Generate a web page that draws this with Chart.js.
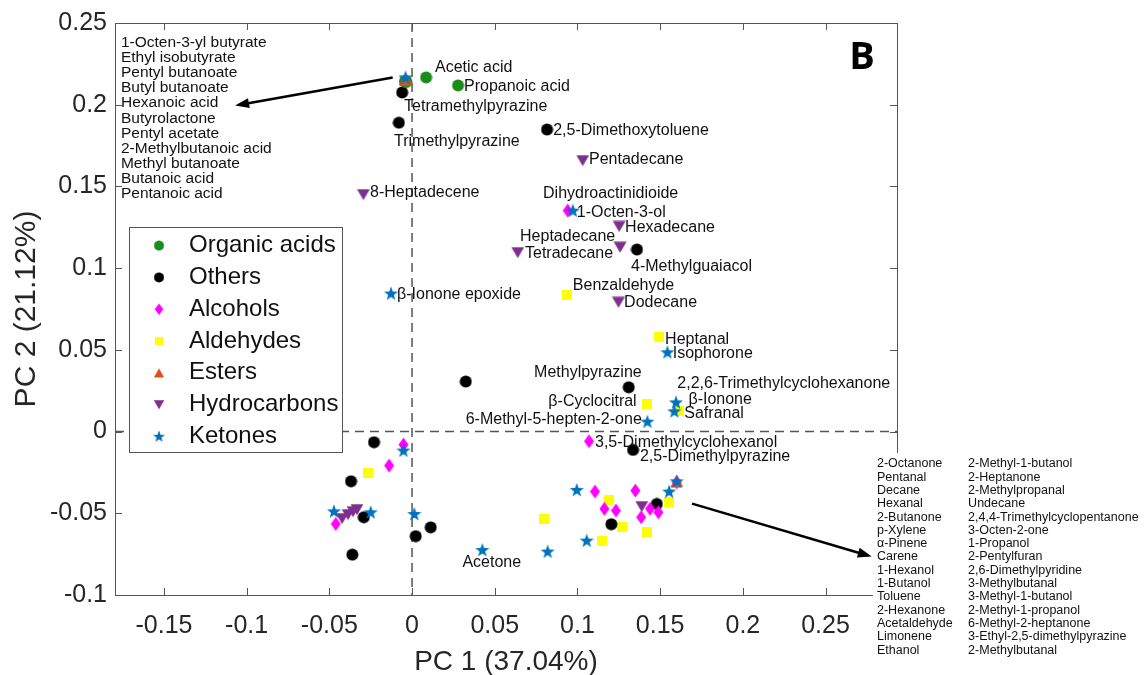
<!DOCTYPE html>
<html>
<head>
<meta charset="utf-8">
<script src="https://cdn.jsdelivr.net/npm/chart.js@4.4.1/dist/chart.umd.min.js"></script>
<style>
  html, body { margin: 0; padding: 0; background: #fff; }
  canvas { display: block; }
</style>
</head>
<body>
<canvas id="pca" width="1146" height="675"></canvas>
<script>
// PC1 / PC2 loadings, one small array per compound class
const organicAcids = [[0.0085, 0.2167], [0.0278, 0.2118], [-0.0040, 0.2142], [-0.0036, 0.2140], [-0.0042, 0.2144], [-0.0038, 0.2141]];
const others = [[-0.0060, 0.2075], [-0.0080, 0.1890], [0.0816, 0.1848], [0.1360, 0.1114], [0.1310, 0.0271], [0.0325, 0.0306],
  [0.1336, -0.0112], [-0.0230, -0.0065], [-0.0369, -0.0304], [-0.0292, -0.0524], [-0.0361, -0.0753], [0.0022, -0.0640],
  [0.0113, -0.0586], [0.1205, -0.0567], [0.1480, -0.0443]];
const alcohols = [[0.0941, 0.1352], [0.1070, -0.0059], [-0.0052, -0.0080], [-0.0139, -0.0208], [-0.0461, -0.0565],
  [0.1106, -0.0367], [0.1163, -0.0473], [0.1233, -0.0483], [0.1350, -0.0361], [0.1385, -0.0524], [0.1439, -0.0473],
  [0.1489, -0.0494], [0.1600, -0.0310]];
const aldehydes = [[0.0935, 0.0838], [0.1495, 0.0577], [0.1423, 0.0170], [0.1616, 0.0124], [-0.0264, -0.0253],
  [0.0800, -0.0537], [0.1189, -0.0418], [0.1150, -0.0671], [0.1272, -0.0586], [0.1419, -0.0616], [0.1556, -0.0430]];
const esters = [[-0.0040, 0.2155], [-0.0038, 0.2157], [-0.0042, 0.2153], [-0.0036, 0.2156], [-0.0040, 0.2152],
  [-0.0038, 0.2154], [0.1602, -0.0304], [0.1598, -0.0308]];
const hydrocarbons = [[0.1032, 0.1658], [-0.0294, 0.1450], [0.1252, 0.1255], [0.1258, 0.1128], [0.0639, 0.1095],
  [0.1248, 0.0791], [-0.0423, -0.0532], [-0.0387, -0.0508], [-0.0357, -0.0490], [-0.0333, -0.0477], [0.1389, -0.0459]];
const ketones = [[-0.0040, 0.2167], [0.0972, 0.1352], [-0.0127, 0.0845], [0.1544, 0.0485], [0.1596, 0.0179],
  [0.1586, 0.0124], [0.1423, 0.0061], [-0.0052, -0.0116], [-0.0472, -0.0488], [-0.0250, -0.0494], [0.0014, -0.0504],
  [0.0425, -0.0724], [0.0820, -0.0734], [0.0996, -0.0357], [0.1056, -0.0667], [0.1554, -0.0367], [0.1600, -0.0304]];

const classNames = ['Organic acids', 'Others', 'Alcohols', 'Aldehydes', 'Esters', 'Hydrocarbons', 'Ketones'];
const xTicks = [-0.15, -0.1, -0.05, 0, 0.05, 0.1, 0.15, 0.2, 0.25];
const yTicks = [-0.1, -0.05, 0, 0.05, 0.1, 0.15, 0.2, 0.25];

// text next to single points: [text, x, y, align]
const pointLabels = [
  ['Acetic acid', 0.0139, 0.2228, 'left'],
  ['Propanoic acid', 0.0314, 0.2111, 'left'],
  ['Tetramethylpyrazine', -0.0048, 0.1989, 'left'],
  ['Trimethylpyrazine', -0.0109, 0.1777, 'left'],
  ['2,5-Dimethoxytoluene', 0.0853, 0.1842, 'left'],
  ['Pentadecane', 0.1070, 0.1665, 'left'],
  ['8-Heptadecene', -0.0254, 0.1463, 'left'],
  ['Dihydroactinidioide', 0.0792, 0.1458, 'left'],
  ['1-Octen-3-ol', 0.0996, 0.1342, 'left'],
  ['Hexadecane', 0.1288, 0.1247, 'left'],
  ['Heptadecane', 0.0653, 0.1193, 'left'],
  ['Tetradecane', 0.0683, 0.1091, 'left'],
  ['4-Methylguaiacol', 0.1324, 0.1010, 'left'],
  ['\u03b2-Ionone epoxide', -0.0091, 0.0838, 'left'],
  ['Benzaldehyde', 0.0972, 0.0894, 'left'],
  ['Dodecane', 0.1282, 0.0789, 'left'],
  ['Heptanal', 0.1530, 0.0563, 'left'],
  ['Isophorone', 0.1576, 0.0476, 'left'],
  ['Methylpyrazine', 0.1063, 0.0363, 'center'],
  ['2,2,6-Trimethylcyclohexanone', 0.1604, 0.0296, 'left'],
  ['\u03b2-Cyclocitral', 0.1358, 0.0184, 'right'],
  ['\u03b2-Ionone', 0.1671, 0.0194, 'left'],
  ['Safranal', 0.1646, 0.0108, 'left'],
  ['6-Methyl-5-hepten-2-one', 0.1389, 0.0072, 'right'],
  ['3,5-Dimethylcyclohexanol', 0.1106, -0.0065, 'left'],
  ['2,5-Dimethylpyrazine', 0.1378, -0.0153, 'left'],
  ['Acetone', 0.0482, -0.0800, 'center']
];

const topLeftList = ['1-Octen-3-yl butyrate', 'Ethyl isobutyrate', 'Pentyl butanoate', 'Butyl butanoate', 'Hexanoic acid',
  'Butyrolactone', 'Pentyl acetate', '2-Methylbutanoic acid', 'Methyl butanoate', 'Butanoic acid', 'Pentanoic acid'];
const rightListA = ['2-Octanone', 'Pentanal', 'Decane', 'Hexanal', '2-Butanone', 'p-Xylene', '\u03b1-Pinene', 'Carene',
  '1-Hexanol', '1-Butanol', 'Toluene', '2-Hexanone', 'Acetaldehyde', 'Limonene', 'Ethanol'];
const rightListB = ['2-Methyl-1-butanol', '2-Heptanone', '2-Methylpropanal', 'Undecane', '2,4,4-Trimethylcyclopentanone',
  '3-Octen-2-one', '1-Propanol', '2-Pentylfuran', '2,6-Dimethylpyridine', '3-Methylbutanal', '3-Methyl-1-butanol',
  '2-Methyl-1-propanol', '6-Methyl-2-heptanone', '3-Ethyl-2,5-dimethylpyrazine', '2-Methylbutanal'];

const FONT = '"Liberation Sans", Arial, sans-serif';

function marker(w, h, fill, path) {
  const c = document.createElement('canvas');
  c.width = w; c.height = h;
  const g = c.getContext('2d');
  g.fillStyle = fill;
  g.beginPath();
  path(g, w, h);
  g.closePath();
  g.fill();
  return c;
}

const mCircle = (col) => marker(13, 13, col, (g) => g.arc(6.5, 6.5, 6, 0, Math.PI * 2));
const mDiamond = marker(11, 15, '#ff00ff', (g) => { g.moveTo(5.5, 0.5); g.lineTo(10.5, 7.5); g.lineTo(5.5, 14.5); g.lineTo(0.5, 7.5); });
const mSquare = marker(10, 10, '#ffff00', (g) => g.rect(0, 0, 10, 10));
const mUp = marker(13, 12, '#d95319', (g) => { g.moveTo(6.5, 0.5); g.lineTo(12.5, 11.5); g.lineTo(0.5, 11.5); });
const mDown = marker(14, 12, '#7e2f8e', (g) => { g.moveTo(0.5, 0.5); g.lineTo(13.5, 0.5); g.lineTo(7, 11.5); });
const mStar = marker(16, 16, '#0072bd', (g) => {
  for (let i = 0; i < 10; i++) {
    const r = i % 2 ? 3.0 : 7.4;
    const a = -Math.PI / 2 + i * Math.PI / 5;
    g.lineTo(8 + r * Math.cos(a), 8.5 + r * Math.sin(a));
  }
});
const markers = [mCircle('#1a8c1a'), mCircle('#000000'), mDiamond, mSquare, mUp, mDown, mStar];
const seriesData = [organicAcids, others, alcohols, aldehydes, esters, hydrocarbons, ketones];
const drawOrder = [2, 4, 3, 5, 1, 6, 0]; // lower = on top

function line(ctx, x1, y1, x2, y2) {
  ctx.beginPath(); ctx.moveTo(x1, y1); ctx.lineTo(x2, y2); ctx.stroke();
}

function arrow(ctx, x1, y1, x2, y2) {
  const ang = Math.atan2(y2 - y1, x2 - x1), hl = 14, hw = 5;
  ctx.strokeStyle = '#000'; ctx.fillStyle = '#000'; ctx.lineWidth = 2.5;
  line(ctx, x1, y1, x2 - (hl - 2) * Math.cos(ang), y2 - (hl - 2) * Math.sin(ang));
  ctx.beginPath();
  ctx.moveTo(x2, y2);
  ctx.lineTo(x2 - hl * Math.cos(ang) + hw * Math.sin(ang), y2 - hl * Math.sin(ang) - hw * Math.cos(ang));
  ctx.lineTo(x2 - hl * Math.cos(ang) - hw * Math.sin(ang), y2 - hl * Math.sin(ang) + hw * Math.cos(ang));
  ctx.closePath();
  ctx.fill();
}

const decor = {
  id: 'decor',
  beforeDatasetsDraw(chart) {
    const { ctx, chartArea: a, scales: { x, y } } = chart;
    ctx.save();
    ctx.strokeStyle = '#555'; ctx.lineWidth = 1.5; ctx.setLineDash([9, 6]);
    const x0 = x.getPixelForValue(0), y0 = y.getPixelForValue(0);
    line(ctx, x0, a.top, x0, a.bottom);
    line(ctx, a.left, y0, a.right, y0);
    ctx.setLineDash([]);
    ctx.lineWidth = 1; ctx.strokeStyle = '#555';
    ctx.strokeRect(a.left + 0.5, a.top + 0.5, a.right - a.left, a.bottom - a.top);
    xTicks.forEach(v => {
      const px = Math.round(x.getPixelForValue(v)) + 0.5;
      line(ctx, px, a.bottom, px, a.bottom - 7);
      line(ctx, px, a.top, px, a.top + 7);
    });
    yTicks.forEach(v => {
      const py = Math.round(y.getPixelForValue(v)) + 0.5;
      line(ctx, a.left, py, a.left + 7, py);
      line(ctx, a.right, py, a.right - 7, py);
    });
    ctx.restore();
  },
  afterDatasetsDraw(chart) {
    const { ctx, chartArea: a, scales: { x, y } } = chart;
    ctx.save();
    ctx.fillStyle = '#111';
    ctx.textBaseline = 'middle';

    ctx.font = '16px ' + FONT;
    pointLabels.forEach(([t, vx, vy, al]) => {
      ctx.textAlign = al;
      ctx.fillText(t, x.getPixelForValue(vx), y.getPixelForValue(vy));
    });

    ctx.textAlign = 'left';
    ctx.font = '15.5px ' + FONT;
    const tlx = x.getPixelForValue(-0.176), tly = y.getPixelForValue(0.2379);
    topLeftList.forEach((t, i) => ctx.fillText(t, tlx, tly + i * 15.1));
    arrow(ctx, x.getPixelForValue(-0.0117), y.getPixelForValue(0.2166), x.getPixelForValue(-0.107), y.getPixelForValue(0.1995));

    // legend
    const lx = a.left + 14, ly = a.top + 204, lw = 213, lh = 225;
    ctx.fillStyle = '#fff'; ctx.fillRect(lx, ly, lw, lh);
    ctx.strokeStyle = '#555'; ctx.lineWidth = 1;
    ctx.strokeRect(lx + 0.5, ly + 0.5, lw, lh);
    ctx.font = '24px ' + FONT; ctx.fillStyle = '#111';
    classNames.forEach((n, i) => {
      const cy = ly + 18.6 + i * 31.8, m = markers[i], s = 0.84;
      ctx.drawImage(m, lx + 30 - m.width * s / 2, cy - m.height * s / 2, m.width * s, m.height * s);
      ctx.fillText(n, lx + 60, cy);
    });

    // list outside the axes, bottom right
    const rx1 = x.getPixelForValue(0.2811), rx2 = x.getPixelForValue(0.3362), ry = y.getPixelForValue(-0.0198);
    ctx.fillStyle = '#fff'; ctx.fillRect(rx1 - 4, ry - 11, 1146 - rx1 + 4, 675 - ry + 11);
    ctx.fillStyle = '#111'; ctx.font = '12.5px ' + FONT;
    rightListA.forEach((t, i) => ctx.fillText(t, rx1, ry + i * 13.3));
    rightListB.forEach((t, i) => ctx.fillText(t, rx2, ry + i * 13.3));
    arrow(ctx, x.getPixelForValue(0.1693), y.getPixelForValue(-0.0441), x.getPixelForValue(0.2779), y.getPixelForValue(-0.0765));

    // panel letter
    ctx.fillStyle = '#000'; ctx.textAlign = 'center';
    ctx.font = 'bold 38px "Open Sans", ' + FONT;
    ctx.fillText('B', a.right - 35, a.top + 35);

    // axis titles
    ctx.fillStyle = '#262626';
    ctx.font = '28px ' + FONT;
    ctx.fillText('PC 1 (37.04%)', (a.left + a.right) / 2, 662);
    ctx.translate(27, (a.top + a.bottom) / 2);
    ctx.rotate(-Math.PI / 2);
    ctx.font = '30px ' + FONT;
    ctx.fillText('PC 2 (21.12%)', 0, 0);
    ctx.restore();
  }
};

const ctx = document.getElementById('pca').getContext('2d');
const chart = new Chart(ctx, {
  type: 'scatter',
  data: {
    datasets: classNames.map((n, i) => ({
      label: n,
      data: seriesData[i].map(p => ({ x: p[0], y: p[1] })),
      pointStyle: markers[i],
      pointRadius: 6,
      borderWidth: 0,
      order: drawOrder[i]
    }))
  },
  options: {
    responsive: false,
    animation: false,
    layout: { padding: { left: 0, right: 249, top: 22, bottom: 0 } },
    plugins: { legend: { display: false }, tooltip: { enabled: false } },
    scales: {
      x: {
        type: 'linear', min: -0.1796, max: 0.2932,
        afterFit: (s) => { s.height = 80; },
        grid: { display: false, drawTicks: false },
        border: { display: false },
        afterBuildTicks: (s) => { s.ticks = xTicks.map(v => ({ value: v })); },
        ticks: {
          padding: 16, color: '#262626', font: { family: FONT, size: 25 },
          callback: (v) => String(+v.toFixed(2))
        }
      },
      y: {
        type: 'linear', min: -0.1, max: 0.25,
        afterFit: (s) => { s.width = 115; },
        grid: { display: false, drawTicks: false },
        border: { display: false },
        afterBuildTicks: (s) => { s.ticks = yTicks.map(v => ({ value: v })); },
        ticks: {
          padding: 8, color: '#262626', font: { family: FONT, size: 25 },
          callback: (v) => String(+v.toFixed(2))
        }
      }
    }
  },
  plugins: [decor]
});
</script>
</body>
</html>
